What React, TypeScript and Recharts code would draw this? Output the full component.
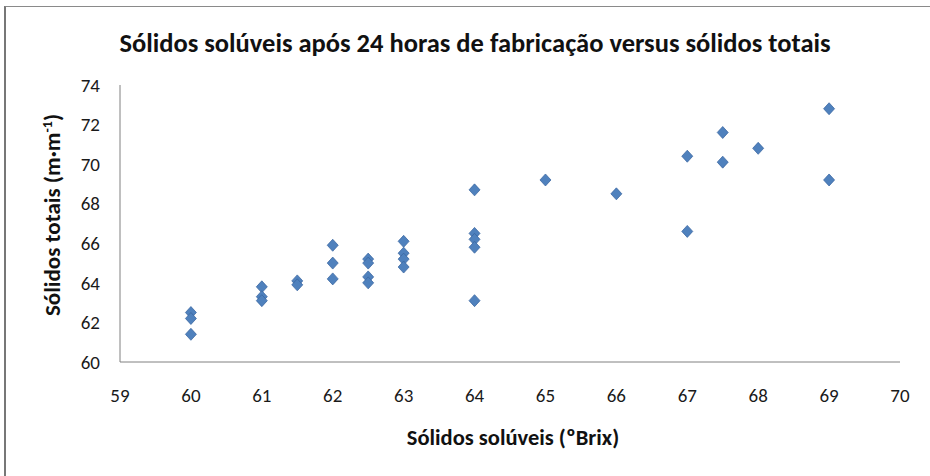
import { ScatterChart, Scatter, XAxis, YAxis } from 'recharts';

// ºBrix after 24h vs total solids, one entry per sample
const brix = [
  60, 60, 60,
  61, 61, 61,
  61.5, 61.5,
  62, 62, 62,
  62.5, 62.5, 62.5, 62.5,
  63, 63, 63, 63,
  64, 64, 64, 64, 64,
  65,
  66,
  67, 67,
  67.5, 67.5,
  68,
  69, 69,
];

const totalSolids = [
  62.5, 62.2, 61.4,
  63.8, 63.3, 63.1,
  64.1, 63.9,
  65.9, 65.0, 64.2,
  65.2, 65.0, 64.3, 64.0,
  66.1, 65.5, 65.2, 64.8,
  68.7, 66.5, 66.2, 65.8, 63.1,
  69.2,
  68.5,
  70.4, 66.6,
  71.6, 70.1,
  70.8,
  72.8, 69.2,
];

const xTicks = [59, 60, 61, 62, 63, 64, 65, 66, 67, 68, 69, 70];
const yTicks = [60, 62, 64, 66, 68, 70, 72, 74];

const data = brix.map((x, i) => ({ x, y: totalSolids[i] }));

const FONT = 'Carlito, Calibri, Lato, "Open Sans", sans-serif';
const AXIS_COLOR = '#808080';
const TICK_SIZE = 19;

const Diamond = (props: any) => {
  const { cx, cy } = props;
  if (cx == null || cy == null) return null;
  const w = 5.5;
  const h = 6;
  return (
    <polygon
      points={`${cx},${cy - h} ${cx + w},${cy} ${cx},${cy + h} ${cx - w},${cy}`}
      fill="#4F81BD"
      stroke="#3A66A0"
      strokeWidth={0.75}
    />
  );
};

const XTick = ({ x, y, payload }: any) => (
  <text
    x={x}
    y={y}
    dy="0.71em"
    textAnchor="middle"
    fill="#1a1a1a"
    style={{ fontSize: TICK_SIZE, fontFamily: FONT }}
  >
    {payload.value}
  </text>
);

const YTick = ({ x, y, payload }: any) => (
  <text
    x={x}
    y={y}
    dy="0.355em"
    textAnchor="end"
    fill="#1a1a1a"
    style={{ fontSize: TICK_SIZE, fontFamily: FONT }}
  >
    {payload.value}
  </text>
);

export default function App() {
  return (
    <div
      style={{
        position: 'absolute',
        left: 0,
        top: 0,
        width: 930,
        height: 476,
        background: '#fff',
        overflow: 'hidden',
        fontFamily: FONT,
      }}
    >
      {/* chart frame, right and bottom edges fall outside the crop */}
      <div
        style={{
          position: 'absolute',
          left: 4,
          top: 6,
          width: 960,
          height: 500,
          borderLeft: '2px solid #777',
          borderTop: '1px solid #8a8a8a',
        }}
      />

      <div
        style={{
          position: 'absolute',
          left: 0,
          width: 950,
          top: 27,
          textAlign: 'center',
          fontSize: 26.5,
          lineHeight: '32px',
          fontWeight: 700,
          color: '#111',
          whiteSpace: 'nowrap',
        }}
      >
        Sólidos solúveis após 24 horas de fabricação versus sólidos totais
      </div>

      <ScatterChart
        width={930}
        height={476}
        margin={{ top: 85, right: 30, bottom: 24, left: 20 }}
        style={{ position: 'absolute', left: 0, top: 0 }}
      >
        <XAxis
          type="number"
          dataKey="x"
          domain={[59, 70]}
          ticks={xTicks}
          interval={0}
          height={90}
          axisLine={{ stroke: AXIS_COLOR, strokeWidth: 1 }}
          tickLine={false}
          tickMargin={21}
          tick={<XTick />}
        />
        <YAxis
          type="number"
          dataKey="y"
          domain={[60, 74]}
          ticks={yTicks}
          interval={0}
          width={100}
          axisLine={{ stroke: AXIS_COLOR, strokeWidth: 1 }}
          tickLine={false}
          tickMargin={14}
          tick={<YTick />}
        />
        <Scatter data={data} shape={<Diamond />} isAnimationActive={false} />
      </ScatterChart>

      <div
        style={{
          position: 'absolute',
          left: 263,
          width: 500,
          top: 424,
          textAlign: 'center',
          fontSize: 22.5,
          lineHeight: '28px',
          fontWeight: 700,
          color: '#111',
        }}
      >
        Sólidos solúveis (ºBrix)
      </div>

      <div
        style={{
          position: 'absolute',
          left: 50,
          top: 215,
          transform: 'translate(-50%, -50%) rotate(-90deg)',
          fontSize: 23,
          lineHeight: '28px',
          fontWeight: 700,
          color: '#111',
          whiteSpace: 'nowrap',
        }}
      >
        Sólidos totais (m·m<sup style={{ fontSize: 14 }}>-1</sup>)
      </div>
    </div>
  );
}
